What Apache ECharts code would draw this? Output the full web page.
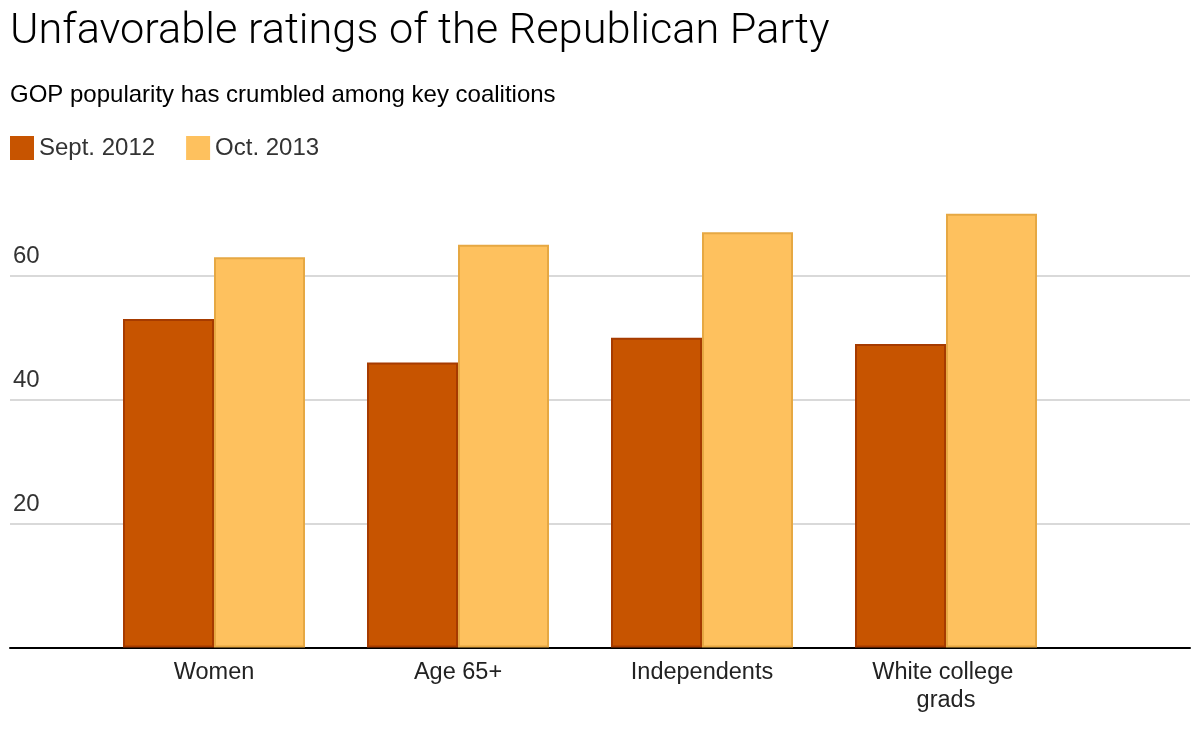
<!DOCTYPE html>
<html>
<head>
<meta charset="utf-8">
<script src="https://cdn.jsdelivr.net/npm/echarts@6/dist/echarts.min.js"></script>
<style>html,body{margin:0;padding:0;background:#fff}#c{width:1202px;height:730px}</style>
</head>
<body>
<div id="c"></div>
<script>
// ---- data ----
const categories = ['Women', 'Age 65+', 'Independents', 'White college grads'];
const seriesNames = ['Sept. 2012', 'Oct. 2013'];
const sept2012 = [53, 46, 50, 49];
const oct2013 = [63, 65, 67, 70];
const yMin = 0;
const yMax = 80;
const yInterval = 20;

const FONT = '"Liberation Sans", Arial, Helvetica, sans-serif';
const SEPT_COLOR = '#C75400';
const OCT_COLOR = '#FEC15E';

const chart = echarts.init(document.getElementById('c'), null, { renderer: 'canvas' });

const option = {
  animation: false,
  backgroundColor: '#fff',
  title: [
    {
      text: 'Unfavorable ratings of the Republican Party',
      left: 10, top: 11, padding: 0,
      textStyle: { fontFamily: 'Roboto, ' + FONT, fontWeight: 300, fontSize: 43.3, color: '#000' }
    },
    {
      text: 'GOP popularity has crumbled among key coalitions',
      left: 10, top: 83, padding: 0,
      textStyle: { fontFamily: FONT, fontWeight: 'normal', fontSize: 24, color: '#000' }
    }
  ],
  legend: {
    left: 10, top: 136, padding: 0,
    icon: 'rect',
    itemWidth: 24, itemHeight: 24, itemGap: 31,
    itemStyle: { borderWidth: 0 },
    textStyle: { fontFamily: FONT, fontSize: 24, color: '#333' },
    data: seriesNames
  },
  grid: [
    { left: 10, right: 12, top: 151.8, bottom: 82.5 },
    { left: 92, right: 134, top: 151.8, bottom: 82.5 }
  ],
  xAxis: [
    {
      gridIndex: 0, type: 'value', min: 0, max: 1,
      axisLine: { show: true, lineStyle: { color: '#000', width: 2 } },
      axisTick: { show: false }, axisLabel: { show: false }, splitLine: { show: false }
    },
    {
      gridIndex: 1, type: 'category', data: categories,
      axisLine: { show: false }, axisTick: { show: false },
      axisLabel: {
        interval: 0, margin: 11, fontFamily: FONT, fontSize: 23.5, color: '#222',
        lineHeight: 28, width: 170, overflow: 'break'
      }
    }
  ],
  yAxis: [
    {
      gridIndex: 0, type: 'value', min: yMin, max: yMax, interval: yInterval,
      axisLine: { show: false }, axisTick: { show: false },
      axisLabel: {
        inside: true, margin: 3, showMinLabel: false, showMaxLabel: false,
        fontFamily: FONT, fontSize: 24, color: '#333',
        verticalAlign: 'bottom', padding: [0, 0, 7, 0]
      },
      splitLine: { show: true, showMinLine: false, showMaxLine: false, lineStyle: { color: '#d9d9d9', width: 2 } }
    },
    {
      gridIndex: 1, type: 'value', min: yMin, max: yMax, interval: yInterval, show: false
    }
  ],
  series: [
    {
      name: seriesNames[0], type: 'bar', xAxisIndex: 1, yAxisIndex: 1,
      data: sept2012, barWidth: 91, barGap: '0%',
      itemStyle: { color: SEPT_COLOR, borderColor: '#A63B00', borderWidth: 2 }
    },
    {
      name: seriesNames[1], type: 'bar', xAxisIndex: 1, yAxisIndex: 1,
      data: oct2013, barWidth: 91, barGap: '0%',
      itemStyle: { color: OCT_COLOR, borderColor: '#E6A843', borderWidth: 2 }
    }
  ]
};

chart.setOption(option);
</script>
</body>
</html>
